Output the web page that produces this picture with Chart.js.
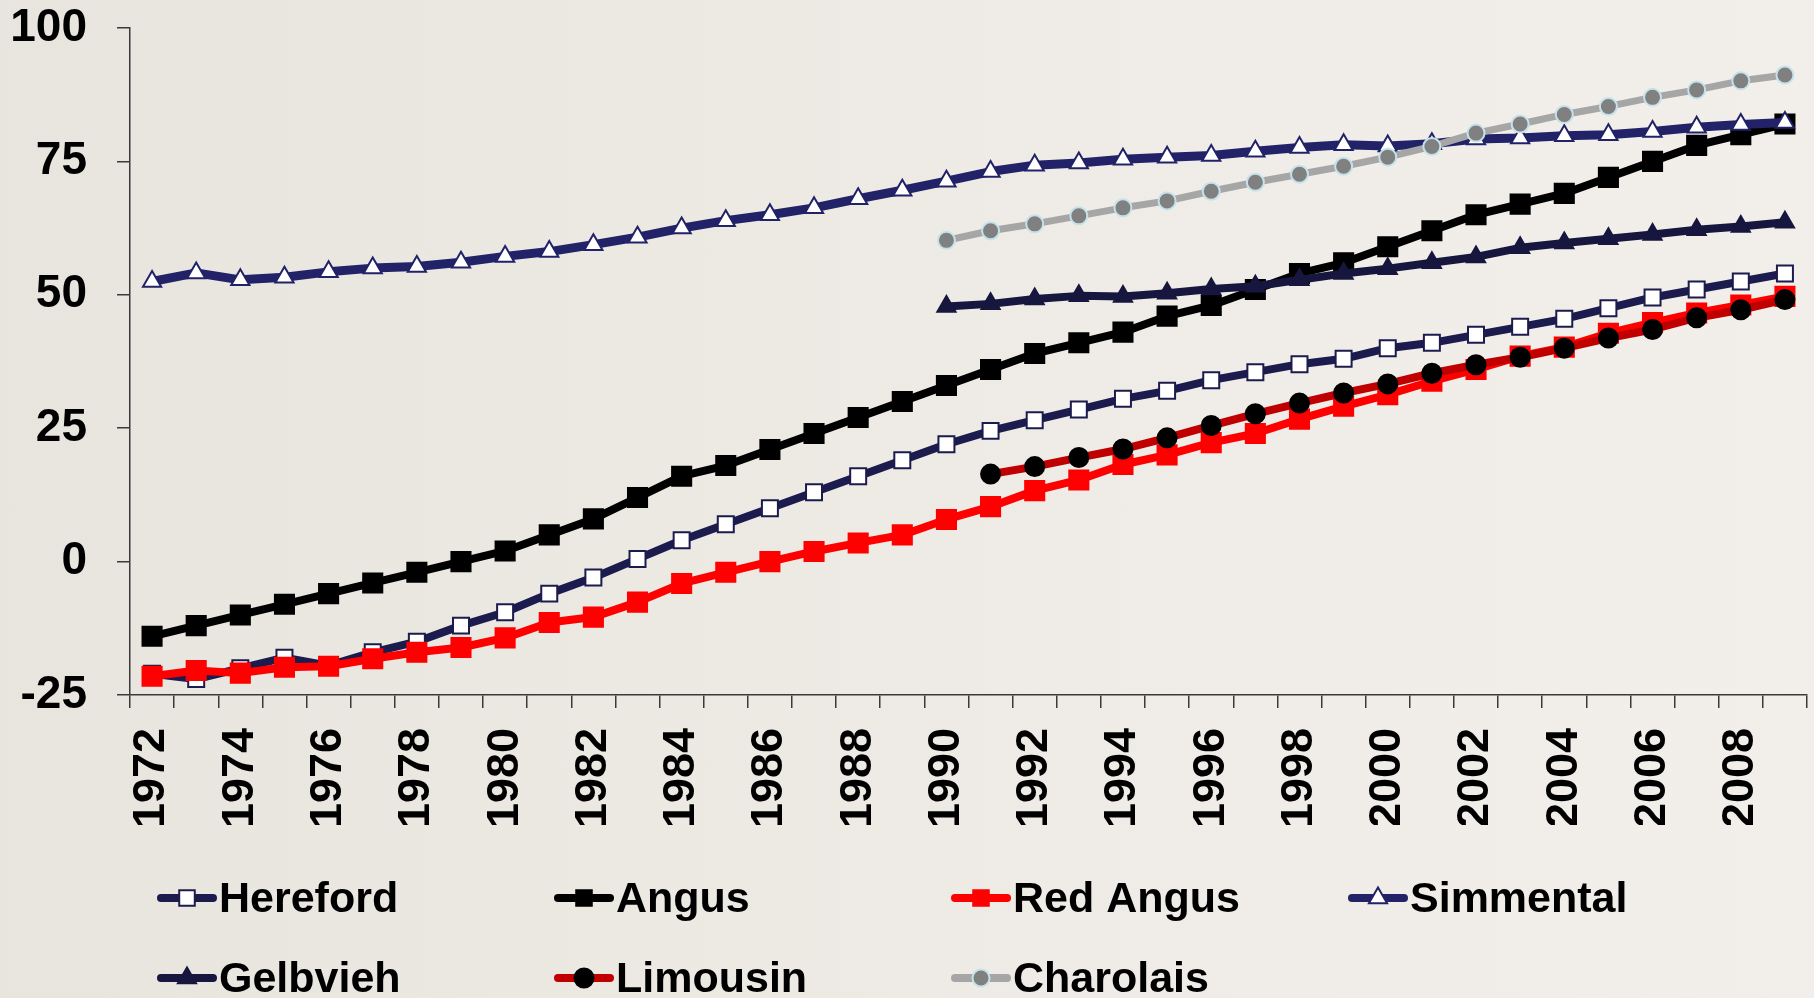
<!DOCTYPE html>
<html>
<head>
<meta charset="utf-8">
<script src="https://cdn.jsdelivr.net/npm/chart.js@4.4.1/dist/chart.umd.min.js"></script>
<style>
  html, body { margin: 0; padding: 0; }
  body {
    width: 1814px; height: 998px; overflow: hidden;
    background: linear-gradient(90deg, #e8e4de 0%, #ece8e2 35%, #f0ece7 70%, #f2efea 100%);
  }
  #wrap { position: absolute; left: 0; top: 0; width: 1814px; height: 998px; }
</style>
</head>
<body>
<div id="wrap"><canvas id="chart" width="1814" height="998"></canvas></div>
<script>
// Breed EPD trend by birth year
const years = ['1972','1973','1974','1975','1976','1977','1978','1979','1980','1981',
  '1982','1983','1984','1985','1986','1987','1988','1989','1990','1991',
  '1992','1993','1994','1995','1996','1997','1998','1999','2000','2001',
  '2002','2003','2004','2005','2006','2007','2008','2009'];

const tickYears = ['1972','1974','1976','1978','1980','1982','1984','1986','1988','1990',
  '1992','1994','1996','1998','2000','2002','2004','2006','2008'];

const hereford = [-21, -22, -20, -18, -19.5, -17, -15, -12, -9.5, -6, -3, 0.5, 4,
  7, 10, 13, 16, 19, 22, 24.5, 26.5, 28.5, 30.5, 32,
  34, 35.5, 37, 38, 40, 41, 42.5, 44, 45.5, 47.5, 49.5, 51, 52.5, 54];

const angus = [-14, -12, -10, -8, -6, -4, -2, 0, 2, 5, 8, 12, 16,
  18, 21, 24, 27, 30, 33,
  36, 39, 41, 43, 46, 48, 51, 54, 56, 59, 62, 65, 67, 69, 72, 75, 78, 80, 82];

const redAngus = [-21.5, -20.4, -20.9, -19.8, -19.6, -18.2, -17, -16.1, -14.3, -11.4, -10.4, -7.6, -4.1,
  -2, 0, 1.9, 3.5, 5, 7.9, 10.3, 13.3, 15.3, 18.2, 20, 22.3, 24, 26.7, 29.1, 31.3, 33.8,
  36, 38.5, 40.2, 42.8, 44.8, 46.6, 48.1, 49.7];

const simmental = [52.5, 54.1, 52.8, 53.3, 54.3, 55.0, 55.3, 56.1, 57.2, 58.1, 59.4, 60.8, 62.5,
  63.9, 65.0, 66.3, 68.0, 69.6, 71.3, 73.1, 74.3, 74.7, 75.4, 75.8, 76.1, 76.9, 77.6, 78.1,
  77.9, 78.3, 79.2, 79.4, 79.8, 80.0, 80.6, 81.4, 81.9, 82.3];

const gelbvieh = [null, null, null, null, null, null, null, null, null, null,
  null, null, null, null, null, null, null, null,
  47.8, 48.3, 49.2, 49.8, 49.7, 50.3, 51.1, 51.6, 52.8, 54.0,
  54.9, 56.0, 57.1, 58.8, 59.7, 60.5, 61.3, 62.2, 62.8, 63.6];

const limousin = [null, null, null, null, null, null, null, null, null, null,
  null, null, null, null, null, null, null, null, null,
  16.4, 17.8, 19.5, 21.1, 23.2, 25.5, 27.7, 29.7, 31.6, 33.3,
  35.3, 36.9, 38.3, 40.0, 41.9, 43.5, 45.7, 47.2, 49.1];

const charolais = [null, null, null, null, null, null, null, null, null, null,
  null, null, null, null, null, null, null, null,
  60.2, 62.0, 63.3, 64.8, 66.3, 67.6, 69.4, 71.1, 72.6, 74.1,
  75.8, 77.8, 80.3, 82.0, 83.8, 85.3, 87.0, 88.4, 90.1, 91.2];

const FONT = '"Liberation Sans", Arial, Helvetica, sans-serif';

function series(label, data, line, style) {
  return Object.assign({
    label, data,
    borderColor: line,
    borderWidth: 8,
    tension: 0,
    fill: false,
    spanGaps: false,
    pointBorderWidth: 2,
    pointHoverRadius: 0
  }, style);
}

const datasets = [
  series('Hereford', hereford, '#1b1b4e', {
    pointStyle: 'rect', pointRadius: 11.3, pointBackgroundColor: '#ffffff', pointBorderColor: '#1b1b4e' }),
  series('Angus', angus, '#000000', {
    pointStyle: 'rect', pointRadius: 13.5, pointBackgroundColor: '#000000', pointBorderColor: '#000000' }),
  series('Red Angus', redAngus, '#ff0000', {
    pointStyle: 'rect', pointRadius: 13.5, pointBackgroundColor: '#ff0000', pointBorderColor: '#ff0000' }),
  series('Simmental', simmental, '#222268', {
    borderWidth: 9,
    pointStyle: 'triangle', pointRadius: 10.5, pointBackgroundColor: '#ffffff', pointBorderColor: '#222268' }),
  series('Gelbvieh', gelbvieh, '#16163f', {
    pointStyle: 'triangle', pointRadius: 10.5, pointBackgroundColor: '#16163f', pointBorderColor: '#16163f' }),
  series('Limousin', limousin, '#c00000', {
    pointStyle: 'circle', pointRadius: 9.5, pointBackgroundColor: '#000000', pointBorderColor: '#000000' }),
  series('Charolais', charolais, '#a6a6a6', {
    borderWidth: 7,
    pointStyle: 'circle', pointRadius: 8.5, pointBackgroundColor: '#808080', pointBorderColor: '#c4e2ea' })
];
// later series sit on top
datasets.forEach((d, i) => { d.order = datasets.length - i; });

// two-row legend with fixed columns under the axis
const gridLegend = {
  id: 'gridLegend',
  afterDraw(chart) {
    const ctx = chart.ctx;
    const colX = 158, colW = 397, rowY = 898, rowH = 80, lineLen = 58;
    chart.data.datasets.forEach((ds, i) => {
      const x = colX + (i % 4) * colW;
      const y = rowY + Math.floor(i / 4) * rowH;
      ctx.save();
      ctx.strokeStyle = ds.borderColor;
      ctx.lineWidth = 8;
      ctx.lineCap = 'round';
      ctx.beginPath();
      ctx.moveTo(x + 3, y);
      ctx.lineTo(x + lineLen - 3, y);
      ctx.stroke();
      ctx.fillStyle = ds.pointBackgroundColor;
      ctx.strokeStyle = ds.pointBorderColor;
      ctx.lineWidth = ds.pointBorderWidth;
      Chart.helpers.drawPoint(ctx, {
        pointStyle: ds.pointStyle, radius: Math.min(ds.pointRadius, 11), rotation: 0, borderWidth: ds.pointBorderWidth
      }, x + lineLen / 2, y);
      ctx.fillStyle = '#000000';
      ctx.font = 'bold 43px ' + FONT;
      ctx.textAlign = 'left';
      ctx.textBaseline = 'middle';
      ctx.fillText(ds.label, x + 61, y + 2);
      ctx.restore();
    });
  }
};

// keep the plot box fixed: no extra room for overhanging tick labels
function noOverhang(s) {
  s.paddingLeft = 0; s.paddingRight = 0; s.paddingTop = 0; s.paddingBottom = 0;
}

new Chart(document.getElementById('chart'), {
  type: 'line',
  data: { labels: years, datasets },
  plugins: [gridLegend],
  options: {
    responsive: false,
    animation: false,
    devicePixelRatio: 1,
    layout: { autoPadding: false, padding: { top: 28, right: 7, bottom: 173, left: 0 } },
    plugins: { legend: { display: false }, tooltip: { enabled: false } },
    elements: { line: { borderJoinStyle: 'round', borderCapStyle: 'round' } },
    scales: {
      x: {
        type: 'category',
        offset: true,
        grid: { offset: true, drawOnChartArea: false, drawTicks: true, tickLength: 13, color: '#3a3a3a', lineWidth: 1.5 },
        border: { display: true, color: '#3a3a3a', width: 1.5 },
        ticks: {
          autoSkip: false,
          maxRotation: 90, minRotation: 90,
          padding: 20,
          color: '#000000',
          font: { family: FONT, size: 45, weight: 'bold' },
          callback: (v, i) => tickYears.includes(years[i]) ? years[i] : ''
        },
        afterFit: (s) => { s.height = 130; noOverhang(s); }
      },
      y: {
        min: -25, max: 100,
        grid: { drawOnChartArea: false, drawTicks: true, tickLength: 13, color: '#3a3a3a', lineWidth: 1.5 },
        border: { display: true, color: '#3a3a3a', width: 1.5 },
        ticks: {
          stepSize: 25,
          padding: 30,
          color: '#000000',
          font: { family: FONT, size: 46, weight: 'bold' }
        },
        afterFit: (s) => { s.width = 130; noOverhang(s); }
      }
    }
  }
});
</script>
</body>
</html>
